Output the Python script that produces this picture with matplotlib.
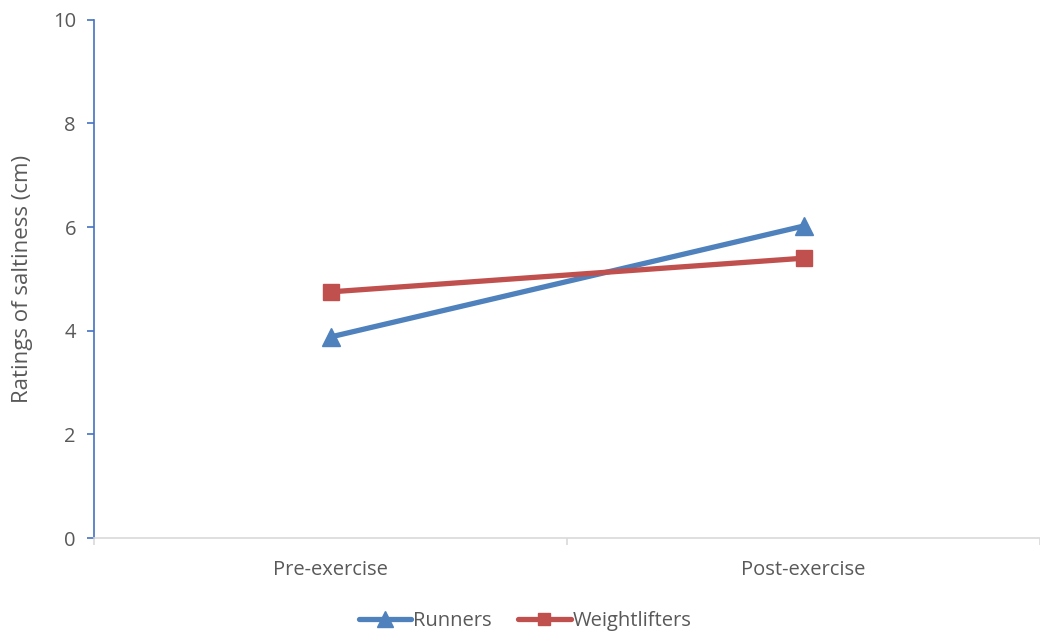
import matplotlib.pyplot as plt
from matplotlib.ticker import FixedLocator

categories = ["Pre-exercise", "Post-exercise"]
runners = [3.88, 6.02]
weightlifters = [4.75, 5.40]
y_ticks = [0, 2, 4, 6, 8, 10]

plt.rcParams['font.family'] = ['Open Sans', 'DejaVu Sans']

fig = plt.figure(figsize=(10.4, 6.39), dpi=100)
ax = fig.add_axes([0.0904, 0.158, 0.9096, 0.811])

x = list(range(len(categories)))
ax.plot(x, runners, color='#4F81BD', lw=3.8, marker='^', markersize=13,
        label='Runners', solid_capstyle='round')
ax.plot(x, weightlifters, color='#C0504D', lw=3.8, marker='s', markersize=11,
        label='Weightlifters', solid_capstyle='round')

ax.set_xlim(-0.5, len(categories) - 0.5)
ax.set_ylim(0, 10)
ax.set_yticks(y_ticks)
ax.set_xticks(x)
ax.set_xticklabels(categories)
ax.xaxis.set_minor_locator(FixedLocator([i - 0.5 for i in range(len(categories) + 1)]))

for s in ['top', 'right']:
    ax.spines[s].set_visible(False)
ax.spines['left'].set_color('#4472C4')
ax.spines['left'].set_linewidth(1.2)
ax.spines['bottom'].set_color('#D9D9D9')
ax.spines['bottom'].set_linewidth(1.2)

ax.tick_params(axis='y', colors='#4472C4', labelcolor='#595959', labelsize=14.5,
               length=5, width=1.2, direction='out', pad=8)
ax.tick_params(axis='x', which='major', length=0, labelcolor='#595959',
               labelsize=14.5, pad=16)
ax.tick_params(axis='x', which='minor', length=5, width=1.2, color='#D9D9D9',
               direction='out')

ax.set_ylabel('Ratings of saltiness (cm)', color='#595959', fontsize=16, labelpad=14)

leg = fig.legend(loc='center', bbox_to_anchor=(0.505, 0.028), ncol=2, frameon=False,
                 fontsize=14.5, handlelength=2.6, handletextpad=0.1, columnspacing=1.3,
                 markerscale=0.85)
for t in leg.get_texts():
    t.set_color('#595959')

fig.savefig('out.png', dpi=100, facecolor='white')
